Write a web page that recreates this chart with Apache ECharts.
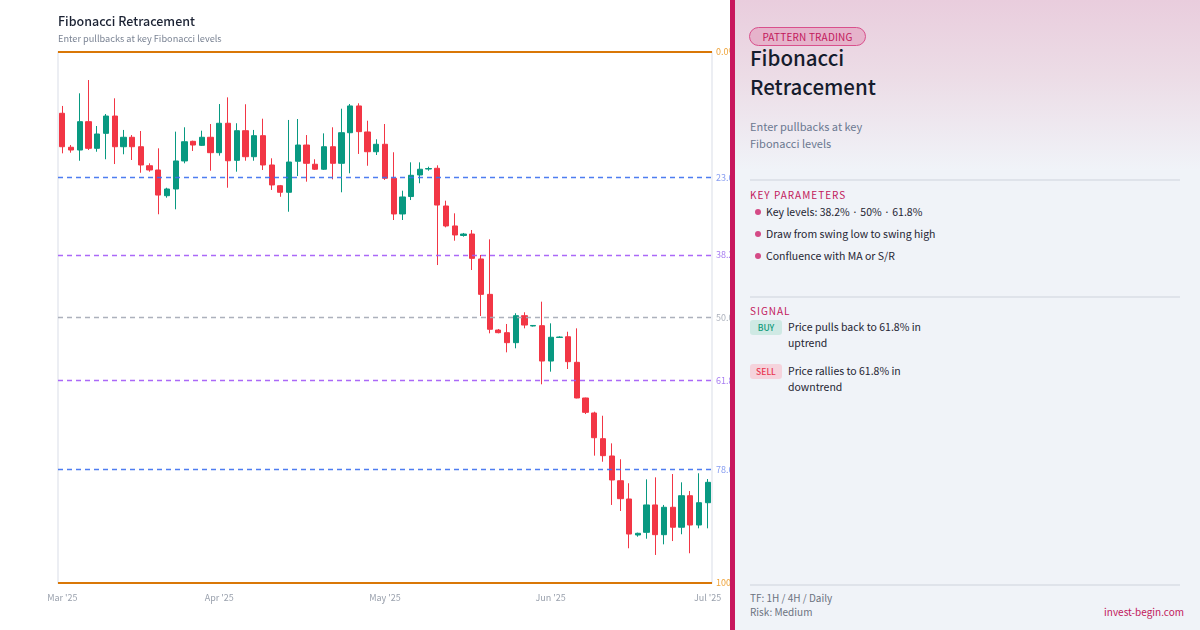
<!DOCTYPE html>
<html>
<head>
<meta charset="utf-8">
<script src="https://cdn.jsdelivr.net/npm/echarts@6/dist/echarts.min.js"></script>
<style>
  html, body { margin: 0; padding: 0; width: 1200px; height: 630px; overflow: hidden; background: #fff; font-family: "Noto Sans CJK KR", "Noto Sans", sans-serif; }
  #chart { position: absolute; left: 0; top: 0; width: 1200px; height: 630px; }
  #panel { position: absolute; left: 730px; top: 0; width: 470px; height: 630px; box-sizing: border-box;
    border-left: 5px solid #c8175d;
    background: linear-gradient(180deg, #e9cddd 0%, #ecdce6 12%, #f0f3f8 27%, #f0f3f8 100%); }
  .pill { position: absolute; left: 14px; top: 27px; width: 115px; height: 17px; border: 1.5px solid #d9508c; border-radius: 12px;
    background: #e6b3cb; color: #c2185b; font-size: 10px; line-height: 17px; text-align: center; letter-spacing: 0.2px; }
  .ptitle { position: absolute; left: 15px; top: 43px; font-size: 20.5px; font-weight: 500; line-height: 29px; color: #161c2d; }
  .psub { position: absolute; left: 15px; top: 118px; font-size: 11px; line-height: 17px; color: #6b7890; }
  .div { position: absolute; left: 15px; width: 430px; height: 2px; background: #dfe3ea; }
  .sect { position: absolute; left: 15px; font-size: 10px; color: #c2185b; letter-spacing: 1px; }
  .bul { position: absolute; left: 31px; font-size: 10.5px; color: #1f2533; }
  .bul::before { content: ""; position: absolute; left: -11px; top: 5px; width: 6px; height: 6px; border-radius: 50%; background: #d44a86; }
  .badge { position: absolute; left: 15px; width: 32px; height: 15px; border-radius: 3px; font-size: 8.5px; line-height: 15px; text-align: center; font-weight: 500; }
  .sig { position: absolute; left: 53px; font-size: 10.5px; line-height: 16px; color: #1f2533; }
  .foot { position: absolute; font-size: 10px; color: #6b7280; }
</style>
</head>
<body>
<div id="chart"></div>
<div id="panel">
  <div class="pill">PATTERN TRADING</div>
  <div class="ptitle">Fibonacci<br>Retracement</div>
  <div class="psub">Enter pullbacks at key<br>Fibonacci levels</div>
  <div class="div" style="top:179px"></div>
  <div class="sect" style="top:187px">KEY PARAMETERS</div>
  <div class="bul" style="top:204px">Key levels: 38.2% · 50% · 61.8%</div>
  <div class="bul" style="top:226px">Draw from swing low to swing high</div>
  <div class="bul" style="top:248px">Confluence with MA or S/R</div>
  <div class="div" style="top:296px"></div>
  <div class="sect" style="top:303px">SIGNAL</div>
  <div class="badge" style="top:320px;background:#cfe9e4;color:#0f9a7a">BUY</div>
  <div class="sig" style="top:319px">Price pulls back to 61.8% in<br>uptrend</div>
  <div class="badge" style="top:364px;background:#f5d3dc;color:#e8334f">SELL</div>
  <div class="sig" style="top:363px">Price rallies to 61.8% in<br>downtrend</div>
  <div class="div" style="top:584px"></div>
  <div class="foot" style="left:15px;top:590px">TF: 1H / 4H / Daily</div>
  <div class="foot" style="left:15px;top:604px">Risk: Medium</div>
  <div class="foot" style="right:16px;top:604px;color:#c2185b">invest-begin.com</div>
</div>
<script>
const categories = [
 "2025-03-01","2025-03-03","2025-03-04","2025-03-06","2025-03-07","2025-03-09","2025-03-11","2025-03-12","2025-03-14","2025-03-16","2025-03-17","2025-03-19","2025-03-21","2025-03-22","2025-03-24","2025-03-26","2025-03-27","2025-03-29",
 "2025-04-01","2025-04-02","2025-04-04","2025-04-05","2025-04-07","2025-04-09","2025-04-10","2025-04-12","2025-04-13","2025-04-15","2025-04-17","2025-04-18","2025-04-20","2025-04-21","2025-04-23","2025-04-24","2025-04-26","2025-04-28","2025-04-29",
 "2025-05-01","2025-05-02","2025-05-04","2025-05-06","2025-05-07","2025-05-09","2025-05-10","2025-05-12","2025-05-14","2025-05-15","2025-05-17","2025-05-18","2025-05-20","2025-05-22","2025-05-23","2025-05-25","2025-05-26","2025-05-28","2025-05-30",
 "2025-06-01","2025-06-02","2025-06-04","2025-06-06","2025-06-07","2025-06-09","2025-06-11","2025-06-12","2025-06-14","2025-06-16","2025-06-17","2025-06-19","2025-06-21","2025-06-22","2025-06-24","2025-06-26","2025-06-27","2025-06-29",
 "2025-07-01"];
const monthLabels = {"03":"Mar '25","04":"Apr '25","05":"May '25","06":"Jun '25","07":"Jul '25"};
const opens = [194.23,191.03,190.77,193.44,190.93,192.34,193.97,191.08,191.97,191.08,189.29,188.89,186.47,187.10,189.74,191.59,191.21,191.97,190.52,193.29,189.80,192.59,190.14,192.12,189.36,187.41,186.79,189.71,191.24,189.43,188.96,191.08,189.52,192.40,194.92,192.47,190.61,191.31,188.11,184.75,186.39,188.42,188.98,189.05,185.50,183.62,182.72,182.86,180.51,177.18,173.82,173.57,172.63,175.17,174.20,174.23,170.90,173.12,173.19,170.78,167.42,166.01,163.59,161.96,159.63,157.91,154.52,154.77,157.35,154.55,157.13,155.25,158.22,155.46,157.56];
const closes = [191.08,190.77,193.44,190.93,192.28,193.97,191.08,191.97,191.08,189.36,188.89,186.53,187.10,189.74,191.55,191.24,191.97,190.52,193.29,189.76,192.59,190.14,192.12,189.36,187.48,186.79,189.64,191.24,189.52,188.96,191.08,189.52,192.40,194.92,192.50,190.61,191.31,188.11,184.75,186.35,188.39,188.96,189.03,185.59,183.62,182.77,182.86,180.57,177.18,173.89,173.57,172.63,175.17,174.29,174.25,170.90,173.14,173.16,170.84,167.42,166.07,163.68,161.99,159.70,157.94,154.61,154.68,157.35,154.55,157.13,155.25,158.22,155.46,157.56,159.48];
const lows = [190.46,190.52,189.76,190.77,190.61,189.90,189.45,190.37,189.83,188.63,188.73,184.72,186.28,185.19,189.52,190.68,191.15,188.82,190.24,187.22,188.73,189.76,189.76,188.89,187.01,186.37,184.96,188.32,187.79,188.89,188.89,188.01,186.79,188.58,190.40,189.29,190.30,187.95,184.18,184.18,186.06,187.64,188.82,179.94,183.49,182.23,182.61,179.47,175.14,173.51,173.51,171.72,172.10,173.98,174.15,168.71,169.90,173.07,170.15,167.39,165.91,161.99,161.42,157.35,156.78,153.27,154.36,154.17,152.64,153.64,153.95,154.59,152.80,155.15,155.15];
const highs = [194.92,191.24,196.11,197.36,193.03,194.16,195.64,192.66,192.18,192.56,189.52,190.93,187.22,192.50,192.91,191.65,192.59,193.22,195.10,195.73,193.29,195.08,192.66,193.72,189.99,187.48,193.60,193.69,192.18,189.90,192.34,192.91,194.66,195.10,195.17,193.53,191.78,193.22,190.56,186.94,189.61,189.61,189.20,189.33,186.00,184.81,182.96,183.24,180.89,182.36,173.92,174.39,175.40,175.49,174.29,176.49,174.45,173.23,173.66,173.98,167.45,166.13,165.75,163.15,161.65,159.39,154.74,159.76,159.95,157.35,160.26,159.48,158.66,160.33,159.79];
const swingHigh = 200;
const swingLow = 150;
const fibRatios = [0, 0.236, 0.382, 0.5, 0.618, 0.786, 1];
const fibLabels = ["0.0%", "23.6%", "38.2%", "50.0%", "61.8%", "78.6%", "100.0%"];
const fibColors = ["#d97706", "#3b6ff0", "#a259f7", "#a3a9b5", "#a259f7", "#3b6ff0", "#d97706"];
const fibLabelColors = ["#eea33a", "#7b93f0", "#9d6ff0", "#a3a9b5", "#9d6ff0", "#7b93f0", "#eea33a"];

const FONT = '"Noto Sans CJK KR", "Noto Sans", sans-serif';
const candleData = opens.map((o, i) => [o, closes[i], lows[i], highs[i]]);
const markData = fibRatios.map((r, i) => ({
  yAxis: swingHigh - r * (swingHigh - swingLow),
  lineStyle: {
    color: fibColors[i],
    width: (r === 0 || r === 1) ? 2 : 1.3,
    type: (r === 0 || r === 1) ? 'solid' : [5, 4],
    opacity: (r === 0 || r === 1) ? 1 : 0.9
  },
  label: { show: true, position: 'end', distance: 4, formatter: fibLabels[i], color: fibLabelColors[i], fontSize: 9, fontFamily: FONT }
}));

const chart = echarts.init(document.getElementById('chart'), null, { renderer: 'canvas' });
chart.setOption({
  animation: false,
  backgroundColor: '#ffffff',
  title: {
    text: 'Fibonacci Retracement',
    subtext: 'Enter pullbacks at key Fibonacci levels',
    left: 53, top: 10, itemGap: 6,
    textStyle: { fontSize: 12.5, fontWeight: 500, color: '#1b2233', fontFamily: FONT },
    subtextStyle: { fontSize: 9.2, color: '#7b8494', fontFamily: FONT }
  },
  grid: { left: 58, right: 488, top: 52, bottom: 47, containLabel: false },
  xAxis: {
    type: 'category', data: categories, boundaryGap: true,
    axisLine: { show: false }, axisTick: { show: false }, splitLine: { show: false },
    axisLabel: {
      interval: (idx, val) => val.slice(8) === '01',
      formatter: (val) => monthLabels[val.slice(5, 7)],
      color: '#9aa1ad', fontSize: 9, margin: 10, fontFamily: FONT
    }
  },
  yAxis: [
    { type: 'value', min: swingLow, max: swingHigh, position: 'left',
      axisLine: { show: true, lineStyle: { color: '#eceef3', width: 2 } },
      axisTick: { show: false }, axisLabel: { show: false }, splitLine: { show: false } },
    { type: 'value', min: swingLow, max: swingHigh, position: 'right',
      axisLine: { show: true, lineStyle: { color: '#eceef3', width: 2 } },
      axisTick: { show: false }, axisLabel: { show: false }, splitLine: { show: false } }
  ],
  series: [{
    type: 'candlestick',
    data: candleData,
    barWidth: '66%',
    itemStyle: { color: '#089981', color0: '#F23645', borderColor: '#089981', borderColor0: '#F23645', borderWidth: 1 },
    markLine: { silent: true, symbol: ['none', 'none'], animation: false, data: markData }
  }]
});
</script>
</body>
</html>
